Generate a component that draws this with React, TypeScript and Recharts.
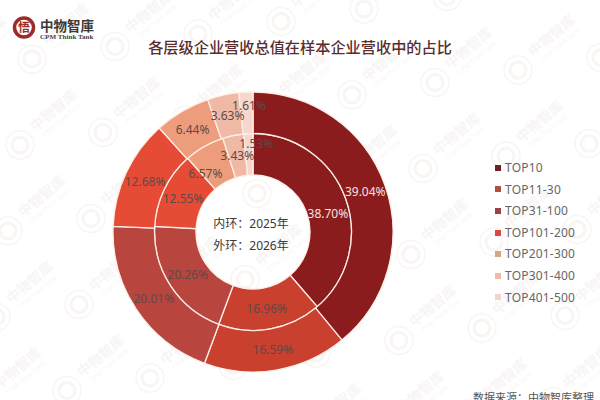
import { Cell, Legend, Pie, PieChart } from 'recharts';

const categories = ['TOP10', 'TOP11-30', 'TOP31-100', 'TOP101-200', 'TOP201-300', 'TOP301-400', 'TOP401-500'];
const innerRing2025 = [38.7, 16.96, 20.26, 12.55, 6.57, 3.43, 1.53];
const outerRing2026 = [39.04, 16.59, 20.01, 12.68, 6.44, 3.63, 1.61];
const colors = ['#8a1c1e', '#c9402f', '#b9453f', '#e64b35', '#ee9d7c', '#f0b9a6', '#f6d6cd'];
const legendColors = ['#6f2226', '#b04f42', '#9f4246', '#d94a45', '#d9a585', '#eebba8', '#efd5cc'];

const FONT = '"Noto Sans", "Noto Sans CJK SC", sans-serif';
const CX = 253;
const CY = 232;
const STROKE = '#fdeee6';

// hand placed labels in the source, everything else sits mid-ring
const innerNudge: Record<number, [number, number]> = { 0: [2, 9], 4: [-9, 9], 6: [7, -11] };
const outerNudge: Record<number, [number, number]> = { 6: [2, -7] };

const toRows = (values: number[]) => values.map((value, i) => ({ name: categories[i], value }));

function makeLabel(nudge: Record<number, [number, number]>) {
  return function RingLabel(props: any) {
    const { midAngle, innerRadius, outerRadius, value, index } = props;
    const r = (innerRadius + outerRadius) / 2;
    const rad = (midAngle * Math.PI) / 180;
    const [dx, dy] = nudge[index] ?? [0, 0];
    return (
      <text
        x={CX + r * Math.cos(rad) + dx}
        y={CY - r * Math.sin(rad) + dy}
        textAnchor="middle"
        dominantBaseline="central"
        fontSize={12}
        fontFamily={FONT}
        fill={index === 0 ? '#f3e3e0' : '#5e4a46'}
      >
        {value.toFixed(2)}%
      </text>
    );
  };
}

function SideLegend() {
  return (
    <div style={{ fontFamily: FONT, fontSize: 12, letterSpacing: 0.2, color: '#666' }}>
      {categories.map((name, i) => (
        <div key={name} style={{ height: 21.6, lineHeight: '21.6px', display: 'flex', alignItems: 'center' }}>
          <span style={{ width: 6, height: 6, background: legendColors[i], marginRight: 4 }} />
          {name}
        </div>
      ))}
    </div>
  );
}

function Watermark() {
  const units = [];
  for (let i = -1; i < 8; i++) {
    for (let j = -1; j < 5; j++) {
      const x = 20 + 83 * i - 12 * j;
      const y = 145 - 12.5 * i + 86 * j;
      if (x < -60 || x > 615 || y < -15 || y > 440) continue;
      units.push(
        <g key={`${i}-${j}`} transform={`translate(${x} ${y})`}>
          <circle r={14} fill="none" stroke="#f9f5f3" strokeWidth={1.5} />
          <circle r={8} fill="none" stroke="#f9f5f3" strokeWidth={3} />
          <g transform="rotate(-40)">
            <text x={20} y={0} fontSize={14} fontWeight={700} fill="#f8f5f4" fontFamily={FONT}>中物智库</text>
            <text x={24} y={10} fontSize={6.5} fill="#f9f7f6" fontFamily={FONT}>CPM Think Tank</text>
          </g>
        </g>,
      );
    }
  }
  return (
    <svg width={600} height={400} style={{ position: 'absolute', left: 0, top: 0 }}>
      {units}
    </svg>
  );
}

export default function App() {
  return (
    <div style={{ position: 'absolute', left: 0, top: 0, width: 600, height: 400, overflow: 'hidden', background: '#fff' }}>
      <Watermark />
      <div style={{ position: 'absolute', left: 0, top: 0 }}>
        <PieChart width={600} height={400} margin={{ top: 0, right: 0, bottom: 0, left: 0 }}>
          <Legend
            content={() => <SideLegend />}
            layout="vertical"
            align="right"
            verticalAlign="top"
            wrapperStyle={{ left: 495, top: 157, width: 100 }}
          />
          <Pie
            data={toRows(innerRing2025)}
            dataKey="value"
            cx={CX}
            cy={CY}
            innerRadius={57}
            outerRadius={98.5}
            startAngle={90}
            endAngle={-270}
            stroke={STROKE}
            strokeWidth={1.3}
            label={makeLabel(innerNudge)}
            labelLine={false}
            isAnimationActive={false}
          >
            {categories.map((name, i) => (
              <Cell key={name} fill={colors[i]} />
            ))}
          </Pie>
          <Pie
            data={toRows(outerRing2026)}
            dataKey="value"
            cx={CX}
            cy={CY}
            innerRadius={98.5}
            outerRadius={140}
            startAngle={90}
            endAngle={-270}
            stroke={STROKE}
            strokeWidth={1.3}
            label={makeLabel(outerNudge)}
            labelLine={false}
            isAnimationActive={false}
          >
            {categories.map((name, i) => (
              <Cell key={name} fill={colors[i]} />
            ))}
          </Pie>
        </PieChart>
      </div>

      <svg width={600} height={400} style={{ position: 'absolute', left: 0, top: 0, pointerEvents: 'none' }}>
        <circle cx={24} cy={27.5} r={9.5} fill="none" stroke="#9b2c2c" strokeWidth={3.5} />
        <text x={24} y={32} textAnchor="middle" fontSize={12} fontWeight={700} fill="#9b2c2c" fontFamily={FONT}>悟</text>
        <text x={40} y={30.5} fontSize={13.5} fontWeight={700} fill="#3a3a3a" fontFamily={FONT}>中物智庫</text>
        <text x={40} y={39} fontSize={7.1} fontWeight={700} fill="#444" fontFamily='"Liberation Serif", serif'>CPM Think Tank</text>
        <text x={300} y={53} textAnchor="middle" fontSize={15.2} fontWeight={500} fill="#5a2d2d" fontFamily={FONT}>
          各层级企业营收总值在样本企业营收中的占比
        </text>
        <text x={251} y={228} textAnchor="middle" fontSize={12} fill="#3a3a3a" fontFamily={FONT}>内环：2025年</text>
        <text x={251} y={250} textAnchor="middle" fontSize={12} fill="#3a3a3a" fontFamily={FONT}>外环：2026年</text>
        <text x={473} y={402} fontSize={11} fill="#555" fontFamily={FONT}>数据来源：中物智库整理</text>
      </svg>
    </div>
  );
}
